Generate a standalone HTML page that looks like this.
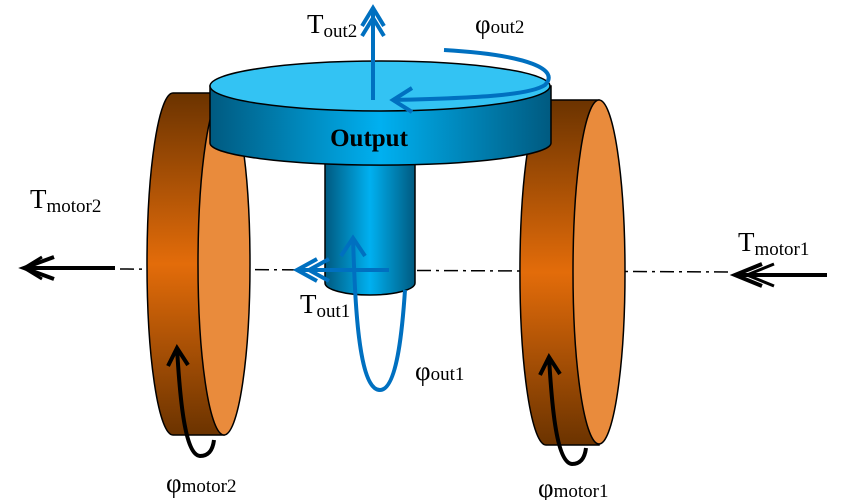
<!DOCTYPE html>
<html><head><meta charset="utf-8"><style>
body{margin:0;background:#fff}
svg{display:block}
text{font-family:"Liberation Serif",serif;fill:#000}
</style></head><body>
<svg width="850" height="500" viewBox="0 0 850 500">
<defs>
<linearGradient id="rim" x1="0" y1="0" x2="0" y2="1">
<stop offset="0" stop-color="#6b3300"/><stop offset="0.5" stop-color="#e36c0a"/><stop offset="1" stop-color="#6b3300"/>
</linearGradient>
<linearGradient id="blu" x1="0" y1="0" x2="1" y2="0">
<stop offset="0" stop-color="#005a80"/><stop offset="0.5" stop-color="#00b0f0"/><stop offset="1" stop-color="#005a80"/>
</linearGradient>
</defs>
<line x1="120" y1="269" x2="730" y2="272" stroke="#000" stroke-width="1.5" stroke-dasharray="14,5,3,5"/>
<g>
<path d="M173 93 L224 93 L224 435 L173 435 A26 171 0 0 1 173 93 Z" fill="url(#rim)" stroke="#000" stroke-width="1.5"/>
<ellipse cx="224" cy="264" rx="26" ry="171" fill="#e98b3c" stroke="#000" stroke-width="1.5"/>
</g>
<g>
<path d="M546 100 L599 100 L599 445 L546 445 A26 172 0 0 1 546 100 Z" fill="url(#rim)" stroke="#000" stroke-width="1.5"/>
<ellipse cx="599" cy="272" rx="26" ry="172" fill="#e98b3c" stroke="#000" stroke-width="1.5"/>
</g>
<g>
<path d="M325 150 L415 150 L415 283 A45 12 0 0 1 325 283 Z" fill="url(#blu)" stroke="#000" stroke-width="1.5"/>
</g>
<g>
<path d="M210 86 L551 86 L551 143 A170 22 0 0 1 210 143 Z" fill="url(#blu)" stroke="#000" stroke-width="1.5"/>
<ellipse cx="380" cy="86" rx="170" ry="25" fill="#33c3f3" stroke="#000" stroke-width="1.5"/>
<text x="369" y="146" font-size="25" font-weight="bold" text-anchor="middle">Output</text>
</g>
<g stroke="#0070c0" stroke-width="4" fill="none">
<line x1="373" y1="100" x2="373" y2="8"/>
<polyline points="362,26 373,8 384,26"/><polyline points="362,36 373,18 384,36"/>
</g>
<g stroke="#0070c0" stroke-width="4" fill="none">
<path d="M444 50 C530 55 560 70 545 85 C530 95 480 98 393 100"/>
<polyline points="412,88 393,100 412,112"/>
</g>
<g stroke="#0070c0" stroke-width="4" fill="none">
<line x1="389" y1="270" x2="297" y2="270"/>
<polyline points="317,259 297,270 317,281"/><polyline points="329,259 309,270 329,281"/>
</g>
<g stroke="#0070c0" stroke-width="4" fill="none">
<path d="M353 238 C355 300 358 390 380 390 C398 390 403 320 405 290"/>
<polyline points="341,256 353,238 365,256"/>
</g>
<g stroke="#000" stroke-width="4" fill="none">
<line x1="115" y1="268" x2="24" y2="268"/>
<polyline points="54,257 24,268 54,279"/><polyline points="42,257 24,268 42,279" stroke-width="3"/>
</g>
<g stroke="#000" stroke-width="4" fill="none">
<line x1="827" y1="275" x2="735" y2="275"/>
<polyline points="762,264 735,275 762,286"/><polyline points="774,264 747,275 774,286" stroke-width="3"/>
</g>
<g stroke="#000" stroke-width="4" fill="none">
<path d="M177 348 C180 400 185 455 200 456 C210 456 213 448 214 440"/>
<polyline points="168,366 177,348 188,365"/>
</g>
<g stroke="#000" stroke-width="4" fill="none">
<path d="M549 357 C552 410 557 463 572 464 C582 464 585 456 586 448"/>
<polyline points="540,375 549,357 560,374"/>
</g>
<text x="307" y="33" font-size="27">T<tspan font-size="19" dy="4">out2</tspan></text>
<text x="475" y="33" font-size="27">φ<tspan font-size="19">out2</tspan></text>
<text x="300" y="313" font-size="27">T<tspan font-size="19" dy="4">out1</tspan></text>
<text x="415" y="380" font-size="27">φ<tspan font-size="19">out1</tspan></text>
<text x="30" y="208" font-size="27">T<tspan font-size="19" dy="4">motor2</tspan></text>
<text x="738" y="251" font-size="27">T<tspan font-size="19" dy="4">motor1</tspan></text>
<text x="166" y="492" font-size="27">φ<tspan font-size="19">motor2</tspan></text>
<text x="538" y="497" font-size="27">φ<tspan font-size="19">motor1</tspan></text>
</svg>
</body></html>
